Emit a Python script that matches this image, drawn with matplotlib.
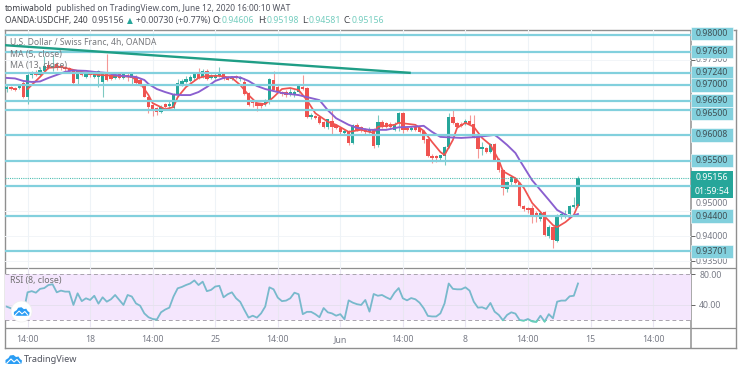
import numpy as np
import matplotlib
matplotlib.use("Agg")
import matplotlib.pyplot as plt
from matplotlib.patches import Rectangle, Ellipse, Polygon
from matplotlib.transforms import Affine2D

plt.rcParams['font.family'] = ['Noto Sans', 'DejaVu Sans']

# ---------- data (prices in 1/10000) ----------
opens = [
 9692,9696,9694,9694,9704,9676,9720,9726,9720,9728,
 9740,9734,9742,9738,9736,9734,9730,9712,9726,9716,
 9724,9716,9716,9706,9726,9720,9714,9722,9714,9720,
 9714,9716,9710,9698,9676,9660,9654,9646,9662,9658,
 9654,9680,9700,9706,9708,9714,9722,9716,9728,9714,
 9714,9718,9722,9716,9712,9718,9712,9706,9684,9668,
 9664,9662,9662,9670,9710,9696,9686,9686,9682,9680,
 9686,9696,9694,9636,9638,9636,9626,9616,9628,9620,
 9614,9605,9609,9585,9621,9617,9613,9607,9611,9581,
 9627,9625,9623,9611,9625,9644,9615,9611,9617,9615,
 9609,9593,9559,9559,9555,9559,9577,9636,9625,9623,
 9623,9629,9623,9597,9573,9575,9567,9583,9553,9531,
 9494,9508,9515,9506,9460,9456,9456,9446,9434,9448,
 9400,9418,9390,9438,9440,9444,9458,9460.6]
highs = [
 9702,9698,9696,9702,9708,9724,9728,9730,9736,9758,
 9746,9760,9746,9740,9738,9736,9732,9730,9728,9724,
 9726,9724,9730,9726,9762,9722,9722,9724,9726,9724,
 9724,9720,9714,9700,9678,9662,9656,9660,9664,9670,
 9684,9712,9712,9718,9720,9724,9734,9732,9732,9722,
 9724,9736,9724,9718,9718,9720,9718,9714,9686,9670,
 9666,9664,9672,9714,9728,9700,9688,9690,9694,9690,
 9702,9720,9696,9644,9640,9638,9628,9632,9650,9622,
 9616,9613,9611,9623,9625,9619,9615,9617,9615,9640,
 9631,9627,9627,9627,9646,9646,9619,9619,9619,9617,
 9611,9595,9563,9561,9561,9579,9644,9650,9627,9627,
 9633,9640,9640,9599,9587,9577,9585,9585,9555,9533,
 9510,9517,9517,9508,9462,9458,9462,9450,9450,9450,
 9422,9420,9444,9446,9452,9462,9478,9519.8]
lows = [
 9686,9690,9688,9692,9674,9662,9714,9718,9718,9726,
 9732,9728,9730,9730,9728,9726,9702,9700,9718,9714,
 9716,9714,9696,9676,9708,9710,9712,9712,9712,9708,
 9702,9702,9698,9676,9644,9638,9640,9644,9654,9654,
 9650,9676,9698,9704,9706,9710,9712,9714,9710,9712,
 9712,9716,9710,9710,9710,9712,9708,9680,9658,9656,
 9648,9654,9658,9662,9690,9686,9678,9676,9678,9676,
 9684,9690,9634,9632,9632,9622,9614,9612,9603,9612,
 9603,9601,9581,9583,9609,9607,9603,9605,9575,9577,
 9615,9615,9615,9609,9609,9605,9609,9609,9609,9605,
 9585,9557,9545,9547,9549,9541,9575,9623,9615,9617,
 9621,9621,9595,9555,9561,9565,9565,9549,9527,9482,
 9488,9502,9504,9458,9450,9446,9426,9428,9430,9400,
 9396,9377,9388,9434,9436,9442,9456,9458.1]
closes = [
 9696,9692,9690,9700,9676,9720,9724,9720,9730,9738,
 9734,9738,9734,9734,9732,9728,9704,9728,9720,9724,
 9720,9724,9728,9726,9710,9712,9720,9714,9722,9716,
 9722,9704,9700,9676,9656,9650,9646,9656,9656,9662,
 9680,9704,9708,9712,9716,9722,9714,9728,9712,9718,
 9720,9724,9712,9710,9716,9714,9716,9682,9660,9664,
 9658,9658,9670,9712,9690,9686,9682,9680,9686,9686,
 9698,9692,9636,9640,9634,9624,9616,9632,9616,9614,
 9607,9609,9585,9621,9611,9611,9607,9613,9579,9627,
 9617,9617,9617,9623,9644,9611,9611,9615,9611,9607,
 9591,9559,9555,9555,9561,9577,9636,9625,9617,9619,
 9629,9623,9597,9573,9577,9567,9583,9551,9531,9496,
 9508,9517,9506,9460,9454,9452,9440,9438,9446,9402,
 9418,9392,9442,9444,9444,9460,9462,9515.6]

ma13_bars = [0,2,4,6,8,10,12,14,16,19,21,24,26,28,31,33,34,36,38,40,42,44,46,48,50,52,54,56,58,60,62,64,66,70,72,75,77,79,82,84,87,91,94,97,100,102,104,109,113,117,118,120,122,123,126,130,132,135,137]
ma13_vals = [9714,9713,9708,9706,9707,9714,9720,9726,9729,9728,9726,9724,9720,9718,9716,9710,9702,9692,9686,9681,9680,9680,9686,9696,9708,9714,9716,9715,9708,9698,9692,9688,9684,9680,9676,9670,9650,9634,9621,9615,9611,9611,9616,9617,9619,9607,9597,9595,9597,9601,9595,9581,9565,9551,9511,9472,9452,9438,9444]
ma5_bars = [5,6,8,10,13,15,18,22,27,30,32,34,35,38,40,41,43,46,48,51,54,56,58,60,62,64,66,68,70,72,74,77,79,82,85,88,89,93,94,96,98,100,102,104,105,107,108,110,112,114,116,118,119,122,124,126,128,131,132,134,136,137]
ma5_vals = [9692,9700,9716,9734,9736,9732,9726,9720,9718,9716,9704,9680,9664,9652,9656,9676,9696,9714,9718,9718,9714,9700,9680,9664,9662,9676,9692,9694,9690,9670,9644,9627,9621,9607,9611,9605,9617,9621,9625,9623,9621,9609,9587,9567,9561,9591,9615,9625,9617,9595,9581,9551,9529,9515,9496,9466,9448,9422,9418,9428,9442,9462]

rsi = [
 37.8,35.7,34,36,30,56.5,58,56,61,62,
 66,67,56.5,58.7,57.4,57.4,40,55.2,45,48.7,
 46.5,52,41.7,50,44.3,47.4,53,46.5,40,53,
 51,42,39,29,24,21.7,21,30.4,34,36.5,
 51,61.7,63.5,66,68,72,66,70.4,58,59.6,
 64,65,50,54,56.5,48.7,44,33.5,23.5,26,
 23.5,29,38,63,60.4,49.6,45,45.7,48.7,56,
 54,28,31,31,28,24,36,30.4,29,26,
 28,21.3,46,43,41,40,46.5,31.3,54.3,52,
 53,50,47.4,56,62,48.7,46,49,47.4,43,
 35.7,25.7,25,25,29,42,68,61,60.4,60.4,
 63,58.7,44.3,36.5,37,34.8,42.6,31.3,27,20,
 27,30.4,28.7,20.4,19.6,21.7,18.7,18,26,18.3,
 28,22.6,44.3,45.7,45.7,51.3,52,68]

level_prices = [0.98, 0.9766, 0.9724, 0.97, 0.9669, 0.965, 0.96008, 0.955, 0.95, 0.944, 0.93701]
boxed_labels = ['0.98000','0.97660','0.97240','0.97000','0.96690','0.96500','0.96008','0.95500','0.94400','0.93701']
boxed_prices = [0.98, 0.9766, 0.9724, 0.97, 0.9669, 0.965, 0.96008, 0.955, 0.944, 0.93701]
plain_labels = ['0.97500','0.95000','0.94000','0.93500']
plain_prices = [0.975, 0.95, 0.94, 0.935]
last_price = 0.95156
trend_bars = [-0.53, 96.9]
trend_prices = [0.97790, 0.97240]
tick_bars = [5,20,35,50,65,80,95,110,125,140,155]
tick_labels = ['14:00','18','14:00','25','14:00','Jun','14:00','8','14:00','15','14:00']

# ---------- layout ----------
W, H = 740, 373
L, R, TOP, MID, RB, FB, FR = 4.5, 691, 30, 267.7, 327.5, 347.5, 736
GREEN, RED = '#26a69a', '#ef5350'
LEVEL = '#82d0dd'
GREY = '#787b86'
FRAME = '#8f8f8f'
LIGHT = '#eef3f7'
fig = plt.figure(figsize=(W/100, H/100), dpi=100, facecolor='white')
def rect(l, t, r, b):
    return [l/W, 1-b/H, (r-l)/W, (b-t)/H]
px = Affine2D().scale(1, -1).translate(0, H)

frame = fig.add_axes(rect(L, TOP, FR, FB))
frame.set_xticks([]); frame.set_yticks([])
frame.set_xlim(L, FR); frame.set_ylim(FB, TOP)
for s in frame.spines.values():
    s.set_color(FRAME); s.set_linewidth(1.0)
frame.axhline(MID, color=FRAME, lw=0.9)
frame.axhline(RB, color=FRAME, lw=0.9)
frame.plot([R, R], [TOP, FB], color='#9a9a9a', lw=1.2)

xlim = (-0.53, 164.1)
ax = fig.add_axes(rect(L, TOP, R, MID))
ax.patch.set_alpha(0)
ax.set_xlim(*xlim)
ax.set_ylim(0.93375, 0.98091)
for s in ax.spines.values():
    s.set_visible(False)
ax.set_xticks(tick_bars); ax.tick_params(axis='x', length=0, labelbottom=False)
ax.set_yticks(plain_prices + boxed_prices)
ax.yaxis.tick_right()
ax.tick_params(axis='y', length=3, width=0.7, color='#666666', labelright=False, pad=2)
ax.grid(axis='x', color=LIGHT, lw=0.8)
for p in [0.975, 0.97, 0.965, 0.96, 0.955, 0.95, 0.945, 0.94, 0.935]:
    ax.axhline(p, color='#f2f5f8', lw=0.7, zorder=0)
ax.set_axisbelow(True)

o, h, l, c = [np.array(a) / 10000 for a in (opens, highs, lows, closes)]
bars = np.arange(len(o))
cols = [GREEN if ci >= oi else RED for oi, ci in zip(o, c)]
ax.vlines(bars, l, h, colors=cols, lw=0.8, alpha=0.6, zorder=2)
ax.bar(bars, np.maximum(np.abs(c - o), 0.00025), bottom=np.minimum(o, c), width=0.8, color=cols, lw=0, zorder=3)

ax.plot(ma5_bars, np.array(ma5_vals)/10000, color='#ef5350', lw=1.25, zorder=4)
ax.plot(ma13_bars, np.array(ma13_vals)/10000, color='#8a5fcf', lw=1.35, zorder=4)
ax.hlines(level_prices, *xlim, colors=LEVEL, lw=1.6, zorder=5)
ax.axhline(last_price, color='#4fbfb2', lw=0.8, ls=(0, (1, 1)), zorder=5)
ax.plot(trend_bars, trend_prices, color='#1f9e86', lw=1.7, zorder=5, solid_capstyle='butt')

yt = ax.get_yaxis_transform()
bw = 41.5 / (R - L)
bh = 13.2 / 5040
lab_x = 1 + 21 / (R - L)
# labels that the chart nudged off their levels to avoid overlap
label_shift = {0.98: 0.0002, 0.965: -0.0007}
for s, p in zip(boxed_labels, boxed_prices):
    py = p + label_shift.get(p, 0)
    ax.add_patch(Rectangle((1.0, py - bh/2), bw, bh, transform=yt, facecolor=LEVEL, edgecolor='white', lw=0.4, clip_on=False, zorder=7))
    ax.text(lab_x, py, s, transform=yt, ha='center', va='center', fontsize=6.3, color='#3f5055', zorder=8, clip_on=False)
plain_shift = {0.975: 0.0, 0.95: -0.00345, 0.94: 0, 0.935: 0}
for s, p in zip(plain_labels, plain_prices):
    ax.text(lab_x, p + plain_shift[p], s, transform=yt, ha='center', va='center', fontsize=6.3, color=GREY, zorder=6, clip_on=False)
ax.add_patch(Rectangle((1.0, last_price - bh/2), bw, bh, transform=yt, facecolor=GREEN, edgecolor='none', clip_on=False, zorder=7))
ax.text(lab_x, last_price, '0.95156', transform=yt, ha='center', va='center', fontsize=6.3, color='white', zorder=8, clip_on=False)
ax.add_patch(Rectangle((1.0, last_price - bh/2 - bh), bw, bh, transform=yt, facecolor=GREEN, edgecolor='none', clip_on=False, zorder=7))
ax.text(lab_x, last_price - 1.0*bh, '01:59:54', transform=yt, ha='center', va='center', fontsize=6.3, color='white', zorder=8, clip_on=False)

# ---------- RSI ----------
ra = fig.add_axes(rect(L, MID, R, RB))
ra.patch.set_alpha(0)
ra.set_xlim(*xlim)
ra.set_ylim(10.6, 88.6)
for s in ra.spines.values():
    s.set_visible(False)
ra.axhspan(20, 80, color='#f4e6fd', lw=0, zorder=0)
ra.set_xticks(tick_bars, tick_labels, fontsize=6.3, color=GREY)
ra.tick_params(axis='x', length=0, pad=5.5)
ra.grid(axis='x', color='#e9e6f2', lw=0.8)
ra.set_axisbelow(True)
ra.axhline(40, color='#e6e0ef', lw=0.7, zorder=1)
for v in (20, 80):
    ra.axhline(v, color='#a8a3ad', lw=0.7, ls=(0, (4, 3)), zorder=1)
ra.yaxis.tick_right()
ra.set_yticks([40, 80], ['40.00', '80.00'], fontsize=6.3, color=GREY)
ra.tick_params(axis='y', length=3, width=0.7, color='#666666', pad=3)
ra.plot(bars, rsi, color='#78b9cc', lw=1.3, zorder=3)
low_line, = ra.plot(bars, rsi, color='#66d0b8', lw=1.3, zorder=4)
low_line.set_clip_path(Rectangle((0, 0), 200, 20, transform=ra.transData))
ra.text(10, 280, 'RSI (8, close)', transform=px, fontsize=6.3, color='#6f6f6f', va='center', zorder=6)

# ---------- decorations in pixel coordinates ----------
BLUE = '#2a9df4'
def cloud(cx, cy, s, zorder):
    pts = [(-8,3),(-8,0),(-5,-2),(-3.5,-4.5),(0,-5),(2.5,-3),(5,-3.5),(6.5,-1),(8.5,0.5),(8,3.5),(5,4),(-5,4)]
    fig.add_artist(Polygon([(cx+s*a, cy+s*b) for a, b in pts], closed=True, fc=BLUE, ec='none', transform=px, zorder=zorder))
    zig = [(-6.5,3),(-2.5,-1),(0.5,2),(3.5,-0.5),(6.5,3)]
    fig.add_artist(plt.Line2D([cx+s*a for a, b in zig], [cy+s*b for a, b in zig], color='white', lw=0.8*s, transform=px, zorder=zorder+1))
fig.add_artist(Ellipse((21.5, 311.5), 21, 21, fc='white', ec='#eeeeee', lw=0.5, transform=px, zorder=20))
cloud(21.5, 312, 0.95, 21)
cloud(13.5, 360, 1.0, 21)
fig.text(24, 360, 'TradingView', transform=px, fontsize=6.6, color='#50535e', va='center', ha='left')

def t(x, y, s, **kw):
    kw.setdefault('fontsize', 6.5); kw.setdefault('va', 'center'); kw.setdefault('color', '#50535e')
    fig.text(x, y, s, transform=px, zorder=30, **kw)

t(5, 8.5, 'tomiwabold', fontweight='bold', color='#3d3f46', fontsize=6.1)
t(56, 8.5, 'published on TradingView.com, June 12, 2020 16:00:10 WAT', color='#50535e', fontsize=6.0)
y2 = 20.5
TEAL = '#74cdbf'
t(5, y2, 'OANDA:USDCHF, 240', fontweight='bold', color='#3d3f46', fontsize=6.0)
t(92, y2, '0.95156', color='#50535e', fontsize=6.3)
t(127, y2, '▲', color=GREEN, fontsize=5.5, family='DejaVu Sans')
t(136, y2, '+0.00730 (+0.77%)', color='#50535e', fontsize=6.3)
for lx, lab, vx, val in [(212.5,'O:',222,'0.94606'),(258,'H:',267,'0.95198'),(302,'L:',309,'0.94581'),(343,'C:',352,'0.95156')]:
    t(lx, y2, lab, fontweight='bold', color='#3d3f46', fontsize=6.3)
    t(vx, y2, val, color=TEAL, fontsize=6.3)

t(10, 42, 'U.S. Dollar / Swiss Franc, 4h, OANDA', fontweight='bold', color='#77797d', fontsize=6.2)
t(10, 54, 'MA (5, close)', color='#77797d', fontsize=6.3)
t(10, 65.5, 'MA (13, close)', color='#77797d', fontsize=6.3)

fig.savefig('out.png', dpi=100)
